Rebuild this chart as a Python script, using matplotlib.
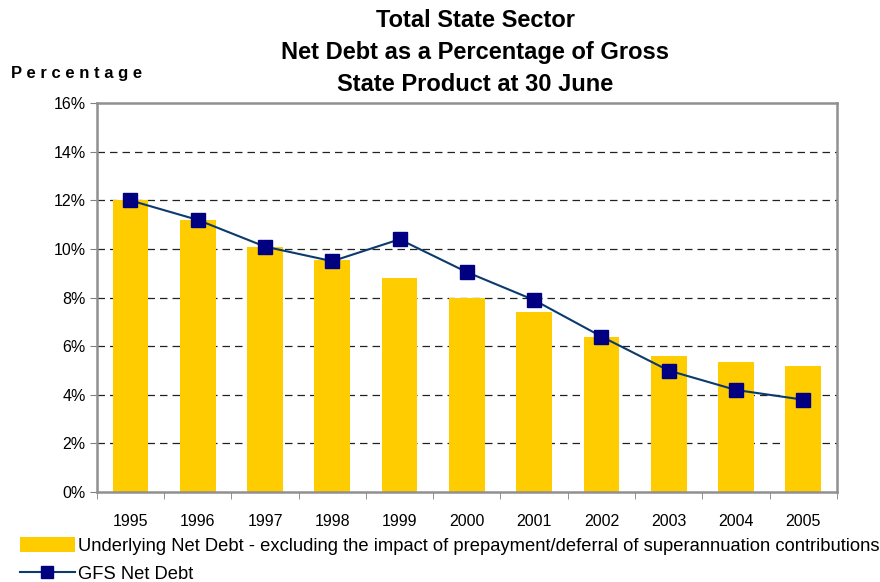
import matplotlib.pyplot as plt
import numpy as np
from matplotlib.lines import Line2D
from matplotlib.patches import Patch

plt.rcParams['font.family'] = ['Liberation Sans', 'DejaVu Sans']

years = ['1995', '1996', '1997', '1998', '1999', '2000', '2001', '2002', '2003', '2004', '2005']
underlying = [12.0, 11.2, 10.1, 9.55, 8.8, 8.0, 7.4, 6.4, 5.6, 5.35, 5.2]
gfs = [12.0, 11.2, 10.1, 9.5, 10.4, 9.05, 7.9, 6.4, 5.0, 4.2, 3.8]
yticks = [0, 2, 4, 6, 8, 10, 12, 14, 16]

fig = plt.figure(figsize=(8.8, 5.82), dpi=100)
ax = fig.add_axes([0.110, 0.1546, 0.841, 0.668])

x = np.arange(len(years))
ax.bar(x, underlying, width=0.53, color='#FFCC00', zorder=2)
ax.plot(x, gfs, color='#0B3A6E', lw=1.5, marker='s', ms=10,
        markerfacecolor='#000080', markeredgecolor='#000080', zorder=3)

ax.set_xlim(-0.5, len(years) - 0.5)
ax.set_ylim(0, 16)
ax.set_yticks(yticks)
ax.set_yticklabels([f'{v}%' for v in yticks], fontsize=11.5)
ax.set_xticks(x)
ax.set_xticklabels(years, fontsize=11.5)
ax.set_xticks(np.arange(len(years) + 1) - 0.5, minor=True)
ax.tick_params(axis='x', which='major', length=0, pad=16)
ax.tick_params(axis='x', which='minor', length=5, color='#808080')
ax.tick_params(axis='y', length=5, color='#808080', pad=3)

for v in yticks[1:-1]:
    ax.axhline(v, color='#222222', lw=0.9, dashes=(6, 4), zorder=1)

for s in ax.spines.values():
    s.set_color('#909090')
    s.set_linewidth(1.8)

fig.text(0.54, 0.985, 'Total State Sector\nNet Debt as a Percentage of Gross\nState Product at 30 June',
         ha='center', va='top', fontsize=17, fontweight='bold', linespacing=1.5)
fig.text(0.012, 0.874, 'P e r c e n t a g e', ha='left', va='center',
         fontsize=12, fontweight='bold')

handles = [Patch(facecolor='#FFCC00', edgecolor='none'),
           Line2D([0], [0], color='#0B3A6E', lw=1.5, marker='s', ms=8,
                  markerfacecolor='#000080', markeredgecolor='#000080')]
labels = ['Underlying Net Debt - excluding the impact of prepayment/deferral of superannuation contributions',
          'GFS Net Debt']
fig.legend(handles, labels, loc='lower left', bbox_to_anchor=(0.01, -0.02),
           frameon=False, fontsize=13.2, handlelength=3.0, handleheight=0.9,
           handletextpad=0.2, labelspacing=0.55, borderaxespad=0.2)

fig.savefig('out.png', dpi=100)
